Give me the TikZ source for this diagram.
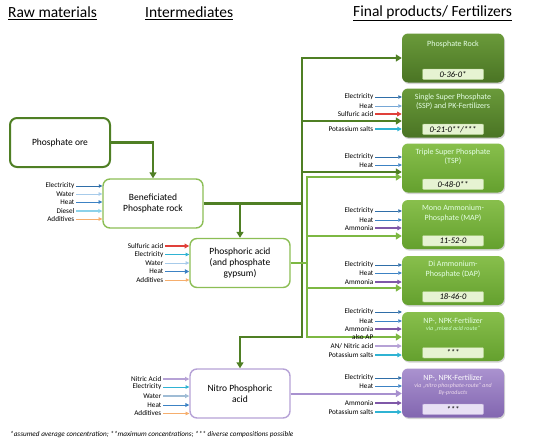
\documentclass[tikz,border=0pt]{standalone}
\usepackage{fontspec}
\setmainfont{Carlito}
\usetikzlibrary{arrows.meta,positioning,shadows}
\definecolor{oregreen}{HTML}{4F7F24}
\definecolor{leafgreen}{HTML}{8CBE55}
\definecolor{flowgreen}{HTML}{7DB843}
\definecolor{nitlilac}{HTML}{B6A2D6}
\definecolor{nitflow}{HTML}{A891CF}
\definecolor{darktop}{HTML}{6A9A3A}
\definecolor{darkbot}{HTML}{4A7424}
\definecolor{midtop}{HTML}{88BF4C}
\definecolor{midbot}{HTML}{64A02E}
\definecolor{lilactop}{HTML}{AA92CF}
\definecolor{lilacbot}{HTML}{8266B0}
\definecolor{valgreen}{HTML}{E6F3D2}
\definecolor{vallilac}{HTML}{E8E0F4}
\definecolor{elecblue}{HTML}{2F6EA8}
\definecolor{heatblue}{HTML}{3C82C4}
\definecolor{waterblue}{HTML}{A7CBEA}
\definecolor{dieselcyan}{HTML}{8CD2EA}
\definecolor{saltcyan}{HTML}{2FB3D3}
\definecolor{acidred}{HTML}{E0403A}
\definecolor{addorange}{HTML}{F6AE6D}
\definecolor{ammpurple}{HTML}{7F58A8}
\tikzset{
  >={Triangle[length=2.6pt 1.3,width=2.4pt 1.4]},
  hdr/.style={font=\fontsize{15.5}{17}\selectfont,anchor=west,inner sep=0pt},
  % mellanprodukter
  rawbox/.style={draw=oregreen,line width=2pt,rounded corners=7pt,fill=white,
             minimum width=100pt,minimum height=49pt,align=center,
             font=\fontsize{9.5}{11}\selectfont},
  midbox/.style={rawbox,draw=leafgreen,line width=1.4pt},
  nitbox/.style={rawbox,draw=nitlilac,line width=1.4pt},
  % slutprodukter
  fin/.style={rounded corners=6pt,minimum width=102pt,minimum height=49pt,
             top color=#1top,bottom color=#1bot,
             drop shadow={shadow xshift=1pt,shadow yshift=-1.5pt,opacity=0.35}},
  ftitle/.style={text=white!90!green,font=\fontsize{8}{9.5}\selectfont,
             align=center,inner sep=0pt},
  fsub/.style={font=\fontsize{6}{7}\selectfont\itshape,align=center,inner sep=0pt},
  val/.style={draw=leafgreen!70,fill=valgreen,minimum width=61pt,minimum height=10.5pt,
             inner sep=0pt,rounded corners=1pt,font=\fontsize{8.5}{9}\selectfont\itshape},
  % tillflöden
  inl/.style={font=\fontsize{7.2}{7.5}\selectfont,anchor=east,inner sep=1.5pt},
  trunk/.style={draw=oregreen,line width=2.5pt},
  trunkarr/.style={trunk,-{Triangle[length=6pt,width=7pt]}},
  ltrunk/.style={draw=flowgreen,line width=2pt},
  ltrunkarr/.style={ltrunk,-{Triangle[length=6pt,width=7pt]}},
  nitarr/.style={draw=nitflow,line width=2pt,-{Triangle[length=6pt,width=7pt]}},
}
\begin{document}
\begin{tikzpicture}[x=1pt,y=-1pt]
\useasboundingbox (0,0) rectangle (550,447);
  \node[hdr] (hraw) at (8,13) {\underline{Raw materials}};
  \node[hdr] (hint) at (145,13) {\underline{Intermediates}};
  \node[hdr] (hfin) at (353,13) {\underline{Final products/ Fertilizers}};

  \node[rawbox] (ore) at (60,142.5) {Phosphate ore};
  \node[midbox] (ben) at (153,203.5) {Beneficiated\\Phosphate rock};
  \node[midbox] (pho) at (240,263) {Phosphoric acid\\(and phosphate\\gypsum)};
  \node[nitbox] (nit) at (240,393.5) {Nitro Phosphoric\\acid};

  \node[fin=dark] (rock) at (453,58) {};
  \node[ftitle,below=7pt of rock.north] (rockt) {Phosphate Rock};
  \node[val,above=3pt of rock.south] (rockv) {0-36-0*};
  \node[fin=dark] (ssp) at (453,113) {};
  \node[ftitle,below=5pt of ssp.north] (sspt) {Single Super Phosphate\\(SSP) and PK-Fertilizers};
  \node[val,above=3pt of ssp.south] (sspv) {0-21-0**/***};
  \node[fin=mid] (tsp) at (453,168) {};
  \node[ftitle,below=5pt of tsp.north] (tspt) {Triple Super Phosphate\\(TSP)};
  \node[val,above=3pt of tsp.south] (tspv) {0-48-0**};
  \node[fin=mid] (map) at (453,224.5) {};
  \node[ftitle,below=5pt of map.north] (mapt) {Mono Ammonium-\\Phosphate (MAP)};
  \node[val,above=3pt of map.south] (mapv) {11-52-0};
  \node[fin=mid] (dap) at (453,280.5) {};
  \node[ftitle,below=5pt of dap.north] (dapt) {Di Ammonium-\\Phosphate (DAP)};
  \node[val,above=3pt of dap.south] (dapv) {18-46-0};
  \node[fin=mid] (npm) at (453,336.5) {};
  \node[ftitle,below=6pt of npm.north] (npmt) {NP-, NPK-Fertilizer};
  \node[fsub,text=white!80!green,below=1.5pt of npmt] (npms) {via „mixed acid route“};
  \node[val,above=3pt of npm.south] (npmv) {***};
  \node[fin=lilac] (npn) at (453,393) {};
  \node[ftitle,text=white,below=6pt of npn.north] (npnt) {NP-, NPK-Fertilizer};
  \node[fsub,text=white!85!violet,below=1.5pt of npnt] (npns) {via „nitro phosphate-route“ and\\By-products};
  \node[val,fill=vallilac,draw=nitlilac,above=3pt of npn.south] (npnv) {***};

  % huvudflöden
  \coordinate (d0) at (302,58);
  \coordinate (d1) at (302,121);
  \coordinate (d2) at (302,172);
  \coordinate (d3) at (302,337);
  \coordinate (l0) at (307,177);
  \coordinate (l1) at (307,236);
  \coordinate (l2) at (307,288);
  \coordinate (l3) at (307,337);
  \draw[trunkarr] (ore.east) -| (ben.north);
  \draw[trunk] (ben.east) -- (ben.east -| d0);
  \draw[trunkarr] (ben.east -| pho.north) -- (pho.north);
  \draw[trunkarr] (d3) -- (d0) -- (rock.west);
  \draw[trunkarr] (d0) -- (d3) -| (nit.north);
  \draw[trunkarr] (d1) -- (d1 -| ssp.west);
  \draw[trunkarr] (d2) -- (d2 -| tsp.west);
  \draw[ltrunk] (pho.east) -- (pho.east -| l0);
  \draw[ltrunkarr] (l3) -- (l0) -- (l0 -| tsp.west);
  \draw[ltrunkarr] (l1) -- (l1 -| map.west);
  \draw[ltrunkarr] (l2) -- (l2 -| dap.west);
  \draw[ltrunkarr] (l0) -- (l3) -- (l3 -| npm.west);
  \node[inl] (alsoap) at (375,337) {also AP};
  \draw[nitarr] (nit.east) -- (nit.east -| npn.west);

  % tillflöden
  \foreach \y/\t/\c/\w [count=\i] in {186/Electricity/elecblue/0.7pt,194/Water/waterblue/0.9pt,
      202/Heat/heatblue/0.9pt,211/Diesel/dieselcyan/1.1pt,219/Additives/addorange/0.9pt}{
    \node[inl] (b\i) at (76,\y) {\t};
    \draw[->,draw=\c,line width=\w] (b\i) -- (b\i -| ben.west);
  }
  \foreach \y/\t/\c/\w [count=\i] in {246/Sulfuric acid/acidred/1.6pt,254.5/Electricity/saltcyan/0.8pt,
      263/Water/waterblue/0.8pt,271.5/Heat/heatblue/1.5pt,280/Additives/addorange/0.7pt}{
    \node[inl] (p\i) at (165,\y) {\t};
    \draw[->,draw=\c,line width=\w] (p\i) -- (p\i -| pho.west);
  }
  \foreach \y/\t/\c/\w [count=\i] in {379/Nitric Acid/nitlilac/1.3pt,387/Electricity/saltcyan/0.8pt,
      396/Water/waterblue!80!gray/1.2pt,405/Heat/heatblue/1pt,413.5/Additives/addorange/0.9pt}{
    \node[inl] (n\i) at (163,\y) {\t};
    \draw[->,draw=\c,line width=\w] (n\i) -- (n\i -| nit.west);
  }
  \foreach \y/\t/\c/\w [count=\i] in {97/Electricity/elecblue/0.7pt,106/Heat/heatblue!70/0.7pt,
      114/Sulfuric acid/acidred/1.6pt,129/Potassium salts/saltcyan/1.5pt}{
    \node[inl] (s\i) at (375,\y) {\t};
    \draw[->,draw=\c,line width=\w] (s\i) -- (s\i -| ssp.west);
  }
  \foreach \y/\t/\c/\w [count=\i] in {157/Electricity/elecblue/0.7pt,165/Heat/heatblue/0.7pt}{
    \node[inl] (t\i) at (375,\y) {\t};
    \draw[->,draw=\c,line width=\w] (t\i) -- (t\i -| tsp.west);
  }
  \foreach \y/\t/\c/\w [count=\i] in {211/Electricity/elecblue/0.7pt,220/Heat/heatblue/0.7pt,
      228/Ammonia/ammpurple/1.5pt}{
    \node[inl] (m\i) at (375,\y) {\t};
    \draw[->,draw=\c,line width=\w] (m\i) -- (m\i -| map.west);
  }
  \foreach \y/\t/\c/\w [count=\i] in {265/Electricity/elecblue/0.7pt,273/Heat/heatblue/0.7pt,
      282/Ammonia/ammpurple/1.5pt}{
    \node[inl] (a\i) at (375,\y) {\t};
    \draw[->,draw=\c,line width=\w] (a\i) -- (a\i -| dap.west);
  }
  \foreach \y/\t/\c/\w [count=\i] in {312/Electricity/elecblue/0.7pt,321/Heat/heatblue/0.7pt,
      329/Ammonia/ammpurple/1.5pt,346/{AN/ Nitric acid}/nitlilac/1.5pt,355/Potassium salts/saltcyan/1.5pt}{
    \node[inl] (x\i) at (375,\y) {\t};
    \draw[->,draw=\c,line width=\w] (x\i) -- (x\i -| npm.west);
  }
  \foreach \y/\t/\c/\w [count=\i] in {378/Electricity/elecblue/0.7pt,386/Heat/heatblue/0.7pt,
      403/Ammonia/ammpurple/1.5pt,412/Potassium salts/saltcyan/1.5pt}{
    \node[inl] (z\i) at (375,\y) {\t};
    \draw[->,draw=\c,line width=\w] (z\i) -- (z\i -| npn.west);
  }

  \node[font=\fontsize{7.2}{8}\selectfont\itshape,anchor=west,inner sep=0pt] (note) at (10,435)
    {*assumed average concentration; **maximum concentrations; *** diverse compositions possible};
\end{tikzpicture}
\end{document}
